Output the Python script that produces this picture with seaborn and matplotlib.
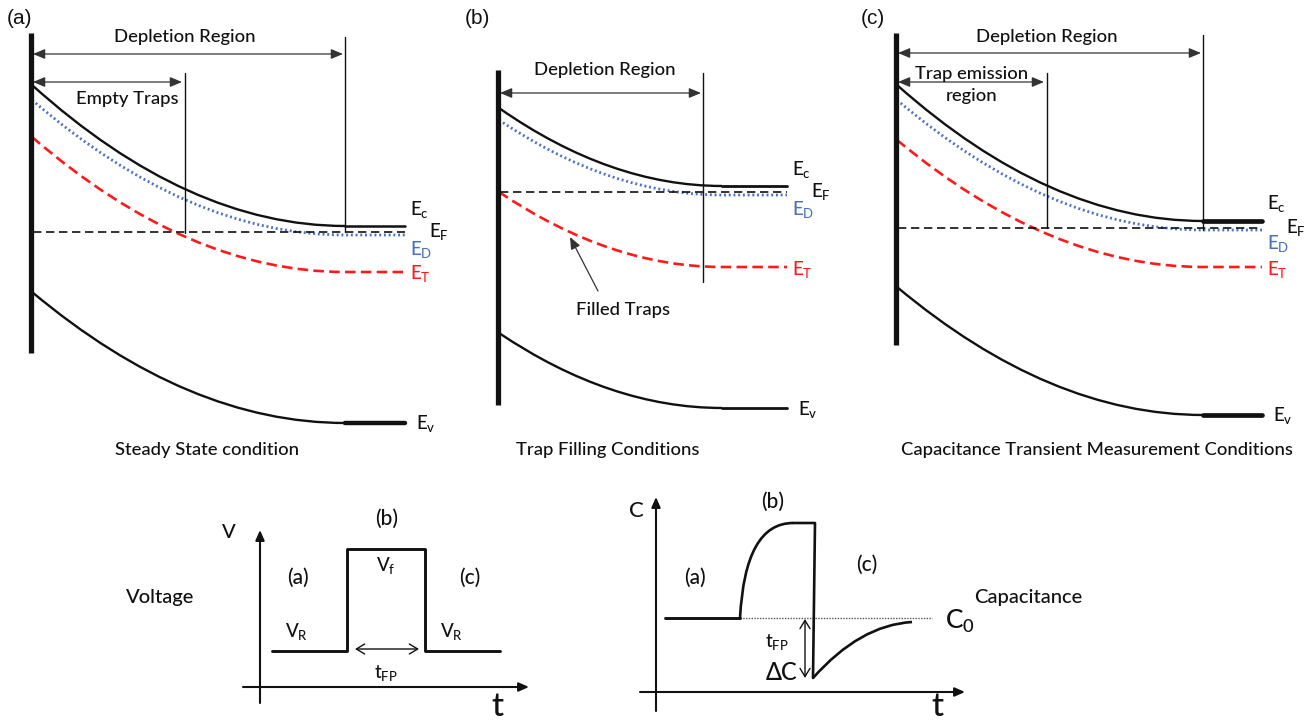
import matplotlib
matplotlib.use("Agg")
import matplotlib.pyplot as plt
from matplotlib.path import Path
from matplotlib.patches import PathPatch
import seaborn as sns

sns.set_theme(style="white")
plt.rcParams["font.family"] = ["Lato", "DejaVu Sans"]
plt.rcParams["font.weight"] = "medium"
plt.rcParams["mathtext.fontset"] = "custom"
plt.rcParams["mathtext.rm"] = "Lato:medium"
plt.rcParams["mathtext.it"] = "Lato:italic"
plt.rcParams["mathtext.bf"] = "Lato:bold"

INK = "#111111"
BLUE = "#4a72c4"
RED = "#ff1a1a"
TXT = 13.3
LBL = 13.5

# ---- band diagrams (canvas units, y grows downward) ----
panel_tags = ["(a)", "(b)", "(c)"]
panel_tag_x = [20, 477, 873]
captions = ["Steady State condition", "Trap Filling Conditions",
            "Capacitance Transient Measurement Conditions"]
caption_x = [207, 608, 1097]
metal_x = [31, 498, 896]
metal_top = [33, 70, 33]
metal_bottom = [353, 405, 345]
flat_start = [345, 722, 1203]
flat_end = [405, 787, 1262]
ec_surface = [85, 108, 85]
ec_bulk = [226, 186, 221]
ed_surface = [100, 120, 100]
ed_bulk = [235, 195, 230]
et_surface = [137, 192, 140]
et_bulk = [272, 267, 267]
ef_level = [232, 192, 228]
ev_surface = [292, 333, 287]
ev_bulk = [423, 408, 415]
ec_flat_lw = [1.8, 2.0, 3.4]
ev_flat_lw = [3.2, 2.0, 3.4]

depl_text_x = [185, 605, 1047]
depl_text_y = [37, 70, 37]
depl_arrow_y = [54, 93, 53]
depl_edge_x = [345, 703, 1203]
depl_edge_top = [37, 73, 35]
depl_edge_bottom = [232, 282, 230]

inner_panels = [0, 2]
inner_edge_x = [185, 1047]
inner_arrow_y = [82, 82]
inner_edge_top = [73, 73]
inner_edge_bottom = [233, 228]
inner_labels = ["Empty Traps", "Trap emission\nregion"]
inner_label_x = [127, 972]
inner_label_y = [99, 85]

# ---- voltage pulse (canvas units) ----
pulse_t = [272, 347, 347, 425, 425, 500]
pulse_v = [651, 651, 549, 549, 651, 651]

# ---- capacitance transient (canvas units) ----
cap_base_t = [665, 740]
cap_base_c = [618, 618]
cap_top_t = [793, 815]
cap_top_c = [523, 523]
cap_min = (813, 678)
cap_end = (912, 622)
c0_level = 618

fig = plt.figure(figsize=(13.09, 7.24), dpi=100)
ax = fig.add_axes([0, 0, 1, 1])
ax.set_xlim(0, 1309)
ax.set_ylim(724, 0)
ax.axis("off")


def band(i, surf, bulk, color, lw, flat_lw=None, dashes=None):
    x0, xe, xf = metal_x[i] + 1, flat_start[i], flat_end[i]
    verts = [(x0, surf[i]), ((x0 + xe) / 2, bulk[i]), (xe, bulk[i])]
    codes = [Path.MOVETO, Path.CURVE3, Path.CURVE3]
    if flat_lw is None:
        verts.append((xf, bulk[i]))
        codes.append(Path.LINETO)
    p = PathPatch(Path(verts, codes), fill=False, edgecolor=color, lw=lw,
                  capstyle="butt")
    if dashes is not None:
        p.set_linestyle((0, dashes))
    ax.add_patch(p)
    if flat_lw is not None:
        sns.lineplot(x=[xe, xf], y=[bulk[i], bulk[i]], ax=ax, color=color,
                     lw=flat_lw, estimator=None, sort=False, legend=False)


def arrow(p0, p1, style, lw=1.0, color=INK, scale=12):
    ax.annotate("", xy=p1, xytext=p0,
                arrowprops=dict(arrowstyle=style, lw=lw, color=color,
                                shrinkA=0, shrinkB=0, mutation_scale=scale))


def label(x, y, s, size=TXT, color=INK, ha="center", **kw):
    ax.text(x, y, s, ha=ha, va="center", fontsize=size, color=color, **kw)


for i in range(3):
    ax.text(panel_tag_x[i], 18, panel_tags[i], ha="center", va="center",
            fontsize=15, family=["Liberation Sans"], fontweight="normal", color=INK)
    label(caption_x[i], 450, captions[i])
    # metal contact
    ax.plot([metal_x[i], metal_x[i]], [metal_top[i], metal_bottom[i]],
            color=INK, lw=3.8, solid_capstyle="butt")
    # depletion width marker
    label(depl_text_x[i], depl_text_y[i], "Depletion Region")
    arrow((metal_x[i] + 2, depl_arrow_y[i]), (depl_edge_x[i] - 2, depl_arrow_y[i]),
          "<|-|>,head_length=0.6,head_width=0.25", lw=0.9, color="#333333")
    ax.plot([depl_edge_x[i]] * 2, [depl_edge_top[i], depl_edge_bottom[i]],
            color=INK, lw=1.0)
    # levels
    ax.plot([metal_x[i] + 2, flat_end[i]], [ef_level[i]] * 2, color=INK,
            lw=1.2, dashes=(5, 2.8))
    band(i, ed_surface, ed_bulk, BLUE, 2.0, dashes=(0.7, 1.0))
    band(i, et_surface, et_bulk, RED, 1.9, dashes=(4, 2))
    band(i, ec_surface, ec_bulk, INK, 1.7, flat_lw=ec_flat_lw[i])
    band(i, ev_surface, ev_bulk, INK, 1.7, flat_lw=ev_flat_lw[i])
    # level labels
    xf = flat_end[i]
    label(xf + 5, ec_bulk[i] - 17, r"$\mathrm{E_c}$", LBL, ha="left")
    label(xf + 24, ef_level[i], r"$\mathrm{E_F}$", LBL, ha="left")
    label(xf + 5, ed_bulk[i] + 14, r"$\mathrm{E_D}$", LBL, BLUE, ha="left")
    label(xf + 5, et_bulk[i] + 2, r"$\mathrm{E_T}$", LBL, RED, ha="left")
    label(xf + 11, ev_bulk[i] + 1, r"$\mathrm{E_v}$", LBL, ha="left")

for k, i in enumerate(inner_panels):
    arrow((metal_x[i] + 2, inner_arrow_y[k]), (inner_edge_x[k] - 3, inner_arrow_y[k]),
          "<|-|>,head_length=0.6,head_width=0.25", lw=0.9, color="#333333")
    ax.plot([inner_edge_x[k]] * 2, [inner_edge_top[k], inner_edge_bottom[k]],
            color=INK, lw=1.0)
    label(inner_label_x[k], inner_label_y[k], inner_labels[k], linespacing=1.45)

# filled traps pointer in (b)
arrow((598, 291), (570, 237), "-|>,head_length=0.6,head_width=0.25",
      lw=0.9, color="#333333")
label(623, 310, "Filled Traps")

# ---- voltage pulse panel ----
arrow((260, 703), (260, 530), "-|>,head_length=0.5,head_width=0.22", lw=1.5)
arrow((243, 687), (529, 687), "-|>,head_length=0.5,head_width=0.22", lw=1.5)
sns.lineplot(x=pulse_t, y=pulse_v, ax=ax, color=INK, lw=2.1, sort=False,
             estimator=None, legend=False)
arrow((355, 649), (419, 649), "<->,head_length=0.5,head_width=0.3", lw=1.0)
label(229, 532, "V", 14.5)
label(497, 707, "t", 24)
label(160, 598, "Voltage", 14.5)
label(298, 578, "(a)", 15)
label(387, 519, "(b)", 15)
label(470, 578, "(c)", 15)
label(297, 631, r"$\mathrm{V_R}$", LBL)
label(452, 631, r"$\mathrm{V_R}$", LBL)
label(386, 566, r"$\mathrm{V_f}$", LBL)
label(386, 673, r"$\mathrm{t_{FP}}$", LBL)

# ---- capacitance transient panel ----
arrow((656, 711), (656, 497), "-|>,head_length=0.5,head_width=0.22", lw=1.5)
arrow((640, 692), (965, 692), "-|>,head_length=0.5,head_width=0.22", lw=1.5)
ax.plot([cap_base_t[1], 932], [c0_level, c0_level], color="#555555", lw=1.0,
        dashes=(1, 1))
sns.lineplot(x=cap_base_t, y=cap_base_c, ax=ax, color=INK, lw=2.1,
             estimator=None, sort=False, legend=False)
rise = Path([(cap_base_t[1], cap_base_c[1]), (cap_base_t[1] + 5, cap_top_c[0]),
             (cap_top_t[0], cap_top_c[0])],
            [Path.MOVETO, Path.CURVE3, Path.CURVE3])
ax.add_patch(PathPatch(rise, fill=False, edgecolor=INK, lw=1.9))
sns.lineplot(x=[cap_top_t[0], cap_top_t[1], cap_min[0]],
             y=[cap_top_c[0], cap_top_c[1], cap_min[1]], ax=ax, color=INK,
             lw=1.9, sort=False, estimator=None, legend=False)
recover = Path([cap_min, (860, 625), cap_end],
               [Path.MOVETO, Path.CURVE3, Path.CURVE3])
ax.add_patch(PathPatch(recover, fill=False, edgecolor=INK, lw=1.9))
arrow((805, 619), (805, 678), "<->,head_length=0.5,head_width=0.3", lw=1.0)
label(636, 511, "C", 16)
label(937, 707, "t", 24)
label(695, 578, "(a)", 15)
label(773, 502, "(b)", 15)
label(867, 565, "(c)", 15)
label(960, 621, r"$\mathrm{C_0}$", 19)
label(1028, 598, "Capacitance", 14.5)
label(777, 642, r"$\mathrm{t_{FP}}$", LBL)
label(782, 673, "ΔC", 17)

fig.savefig("out.png", dpi=100, facecolor="white")
